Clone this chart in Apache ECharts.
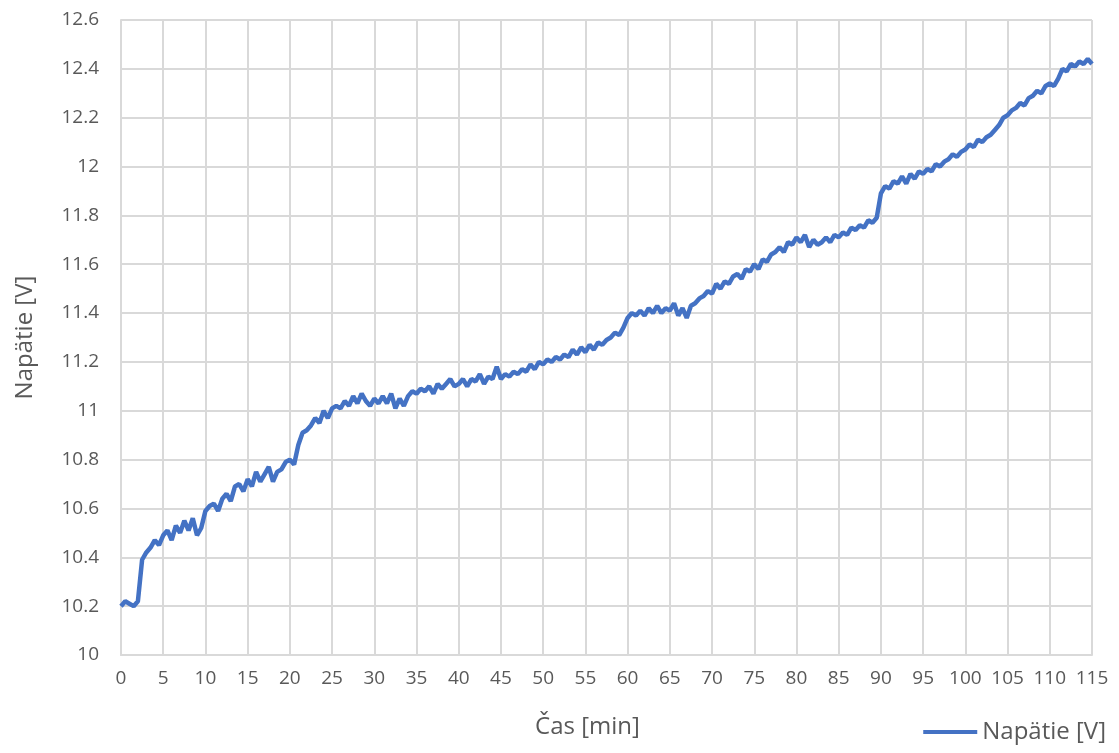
<!DOCTYPE html>
<html>
<head>
<meta charset="utf-8">
<title>Napätie [V]</title>
<script src="https://cdn.jsdelivr.net/npm/echarts@6/dist/echarts.min.js"></script>
<style>
	html, body { margin: 0; padding: 0; background: #fff; }
	#graf { width: 1119px; height: 753px; }
</style>
</head>
<body>
<div id="graf"></div>
<script>
	/* krok merania v minútach */
	var krokMin = 0.5;

	/* napätie po 0.5 min, jeden riadok = 10 min */
	var napatie = [
		10.20,10.22,10.21,10.20,10.22,10.39,10.42,10.44,10.47,10.45,10.49,10.51,10.47,10.53,10.50,10.55,10.51,10.56,10.49,10.52,
		10.59,10.61,10.62,10.59,10.64,10.66,10.63,10.69,10.70,10.67,10.72,10.69,10.75,10.71,10.74,10.77,10.71,10.75,10.76,10.79,
		10.80,10.78,10.86,10.91,10.92,10.94,10.97,10.95,11.00,10.97,11.01,11.02,11.01,11.04,11.02,11.06,11.03,11.07,11.04,11.02,
		11.05,11.03,11.06,11.03,11.07,11.01,11.05,11.02,11.06,11.08,11.07,11.09,11.08,11.10,11.07,11.11,11.09,11.11,11.13,11.10,
		11.11,11.13,11.10,11.13,11.12,11.15,11.11,11.14,11.13,11.18,11.13,11.15,11.14,11.16,11.15,11.17,11.16,11.19,11.17,11.20,
		11.19,11.21,11.20,11.22,11.21,11.23,11.22,11.25,11.23,11.26,11.24,11.27,11.25,11.28,11.27,11.29,11.30,11.32,11.31,11.34,
		11.38,11.40,11.39,11.41,11.39,11.42,11.40,11.43,11.40,11.42,11.41,11.44,11.39,11.42,11.38,11.43,11.44,11.46,11.47,11.49,
		11.48,11.52,11.50,11.53,11.52,11.55,11.56,11.54,11.58,11.57,11.60,11.58,11.62,11.61,11.64,11.65,11.67,11.65,11.69,11.68,
		11.71,11.69,11.72,11.67,11.70,11.68,11.69,11.71,11.69,11.72,11.71,11.73,11.72,11.75,11.74,11.76,11.75,11.78,11.77,11.79,
		11.89,11.92,11.91,11.94,11.93,11.96,11.93,11.97,11.95,11.98,11.97,11.99,11.98,12.01,12.00,12.02,12.03,12.05,12.04,12.06,
		12.07,12.09,12.08,12.11,12.10,12.12,12.13,12.15,12.17,12.20,12.21,12.23,12.24,12.26,12.25,12.28,12.29,12.31,12.30,12.33,
		12.34,12.33,12.36,12.40,12.39,12.42,12.41,12.43,12.42,12.44,12.42
	];

	var osX = { min: 0, max: 115, krok: 5, nazov: 'Čas [min]' };
	var osY = { min: 10, max: 12.6, krok: 0.2, nazov: 'Napätie [V]' };
	var nazovSerie = 'Napätie [V]';

	var farbaCiary = '#4472c4';
	var farbaTextu = '#595959';
	var farbaMriezky = '#d9d9d9';
	var pismo = '"Open Sans", sans-serif';

	var body = napatie.map(function(v, i) {
		return [i * krokMin, v];
	});

	var chart = echarts.init(document.getElementById('graf'), null, { renderer: 'canvas' });

	var option = {
		animation: false,
		backgroundColor: '#fff',
		textStyle: { fontFamily: pismo },
		grid: { left: 121, right: 27, top: 20, bottom: 98, containLabel: false },
		legend: {
			data: [nazovSerie],
			right: 8,
			bottom: 4,
			icon: 'rect',
			itemWidth: 54,
			itemHeight: 4,
			itemGap: 6,
			itemStyle: { color: farbaCiary },
			textStyle: { fontSize: 24, color: farbaTextu, fontFamily: pismo }
		},
		xAxis: {
			type: 'value',
			min: osX.min,
			max: osX.max,
			interval: osX.krok,
			name: osX.nazov,
			nameLocation: 'middle',
			nameGap: 60,
			nameTextStyle: { fontSize: 24, color: farbaTextu, padding: [0, 38, 0, 0] },
			axisLine: { lineStyle: { color: farbaMriezky, width: 2 } },
			axisTick: { show: false },
			axisLabel: { fontSize: 19, color: farbaTextu, margin: 14 },
			splitLine: { show: true, lineStyle: { color: farbaMriezky, width: 2 } }
		},
		yAxis: {
			type: 'value',
			min: osY.min,
			max: osY.max,
			interval: osY.krok,
			name: osY.nazov,
			nameLocation: 'middle',
			nameGap: 84,
			nameTextStyle: { fontSize: 24, color: farbaTextu },
			axisLine: { show: true, lineStyle: { color: farbaMriezky, width: 2 } },
			axisTick: { show: false },
			axisLabel: {
				fontSize: 19,
				color: farbaTextu,
				margin: 22,
				formatter: function(v) { return String(Math.round(v * 10) / 10); }
			},
			splitLine: { show: true, lineStyle: { color: farbaMriezky, width: 2 } }
		},
		series: [{
			name: nazovSerie,
			type: 'line',
			data: body,
			showSymbol: false,
			symbol: 'none',
			lineStyle: { color: farbaCiary, width: 4.5 },
			itemStyle: { color: farbaCiary }
		}]
	};

	chart.setOption(option);
</script>
</body>
</html>
